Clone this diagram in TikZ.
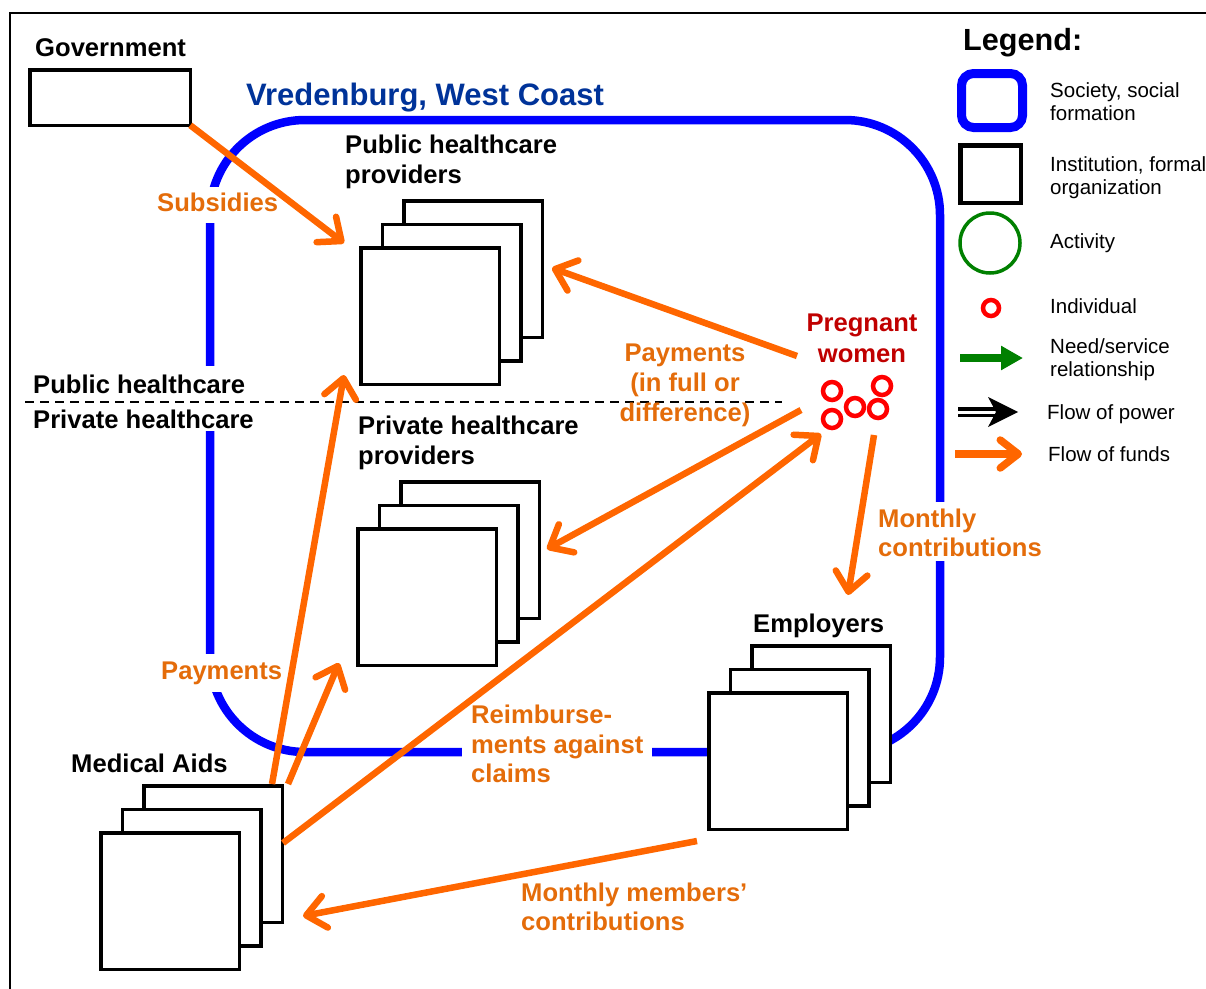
\documentclass[tikz,border=0pt]{standalone}
\usepackage{fontspec}
\setmainfont{Liberation Sans}
\usetikzlibrary{arrows.meta}
\definecolor{fundline}{RGB}{255,102,0}
\definecolor{fundtext}{RGB}{228,108,10}
\definecolor{socblue}{RGB}{0,0,255}
\definecolor{titleblue}{RGB}{0,51,153}
\definecolor{pwred}{RGB}{192,0,0}
\definecolor{indred}{RGB}{255,0,0}
\definecolor{actgreen}{RGB}{0,128,0}
\newcommand{\labfont}{\fontsize{25.6}{30}\selectfont\bfseries}
\newcommand{\legfont}{\fontsize{20.5}{23.5}\selectfont}
\newcommand{\instack}[3]{%
  \node[inst] (#1A) at ({#2+43},{#3-47}) {};
  \node[inst] (#1B) at ({#2+21.5},{#3-23.5}) {};
  \node[inst] (#1C) at (#2,#3) {};}
\begin{document}
\begin{tikzpicture}[x=1pt,y=-1pt,
  inst/.style={draw=black,line width=3.5pt,fill=white,minimum width=138.5pt,minimum height=136.5pt,inner sep=0pt,outer sep=0pt,anchor=north west},
  lab/.style={font=\labfont,inner sep=0pt,align=left,anchor=north west},
  funlab/.style={lab,text=fundtext},
  whitelab/.style={funlab,fill=white},
  leg/.style={font=\legfont,inner sep=0pt,align=left,anchor=north west},
  indiv/.style={circle,draw=indred,line width=4.5pt,minimum size=18pt,inner sep=0pt},
  funds/.style={draw=fundline,line width=6.5pt,-{Straight Barb[length=19pt,width=32pt,round]}},
  society/.style={draw=socblue,line width=8.5pt,rounded corners=95pt}]
\useasboundingbox (0,0) rectangle (1206,988);
% outer frame
\draw[line width=2pt] (10,990) -- (10,13) -- (1210,13);
% society: Vredenburg
\draw[society] (210,120) rectangle (940,752);
\node[font=\fontsize{31}{36}\selectfont\bfseries,text=titleblue,inner sep=0pt,anchor=base west] (vred) at (246,105) {Vredenburg, West Coast};
% labels with white background (interrupt the blue line)
\node[whitelab,inner sep=3pt] (subs) at (154,187) {\strut Subsidies};
\node[lab,fill=white,inner sep=3pt,font=\fontsize{25.6}{35}\selectfont\bfseries] (sector) at (30,365.5) {\strut Public healthcare\\Private healthcare};
\node[whitelab,inner sep=4pt] (paybl) at (157,654) {\strut Payments};
\node[whitelab,inner xsep=9pt,inner ysep=3pt,font=\fontsize{25.6}{29.5}\selectfont\bfseries] (reimb) at (462,700) {\strut Reimburse-\\ments against\\claims};
\node[whitelab,inner xsep=4pt,inner ysep=5pt,font=\fontsize{25.6}{29}\selectfont\bfseries] (monthly) at (874,501.7) {\strut Monthly\\contributions};
% divider
\draw[line width=2pt,dash pattern=on 9pt off 6pt] (25,402) -- (782,402);
% institutions
\node[draw=black,line width=3.5pt,fill=white,minimum width=160.5pt,minimum height=55.5pt,inner sep=0pt,outer sep=0pt,anchor=north west] (gov) at (29.75,69.75) {};
\node[font=\labfont,inner sep=0pt,anchor=base west] (govlab) at (35,56) {Government};
\instack{pub}{360.75}{247.75}
\node[lab] (publab) at (345,132) {\strut Public healthcare\\providers};
\instack{priv}{357.75}{528.75}
\node[lab] (privlab) at (358,413) {\strut Private healthcare\\providers};
\instack{emp}{708.75}{692.75}
\node[font=\labfont,inner sep=0pt,anchor=base west] (emplab) at (753,632) {Employers};
\instack{med}{100.75}{832.75}
\node[font=\labfont,inner sep=0pt,anchor=base west] (medlab) at (71,772) {Medical Aids};
% other flow labels
\node[funlab,align=center,anchor=north] (paypw) at (685,340) {\strut Payments\\(in full or\\difference)};
\node[funlab,font=\fontsize{25.6}{29}\selectfont\bfseries] (members) at (521,880.7) {\strut Monthly members’\\contributions};
% pregnant women
\node[lab,align=center,anchor=north,text=pwred,font=\fontsize{25.6}{31}\selectfont\bfseries] (pwlab) at (862,309.3) {\strut Pregnant\\women};
\node[indiv] (w1) at (832,391) {};
\node[indiv] (w2) at (882,386) {};
\node[indiv] (w3) at (855,407) {};
\node[indiv] (w4) at (878,409) {};
\node[indiv] (w5) at (832,419) {};
% connector end points
\coordinate (subsEnd) at (344,243);
\coordinate (pwOutPub) at (797,356);
\coordinate (pubIn) at (552,268);
\coordinate (pwOutPriv) at (801,410);
\coordinate (privIn) at (547,549);
\coordinate (medOutPw) at (283,843);
\coordinate (pwIn) at (821,434);
\coordinate (pwOutEmp) at (874,435);
\coordinate (empIn) at (848,595);
\coordinate (empOutMed) at (697,841);
\coordinate (medIn) at (303,916);
\coordinate (medOutPub) at (272,784);
\coordinate (pubInB) at (344,375);
\coordinate (medOutPriv) at (288,784);
\coordinate (privInB) at (339,663);
% flows of funds
\draw[funds] (gov.south east) -- (subsEnd);
\draw[funds] (pwOutPub) -- (pubIn);
\draw[funds] (pwOutPriv) -- (privIn);
\draw[funds] (medOutPw) -- (pwIn);
\draw[funds] (pwOutEmp) -- (empIn);
\draw[funds] (empOutMed) -- (medIn);
\draw[funds] (medOutPub) -- (pubInB);
\draw[funds] (medOutPriv) -- (privInB);
% legend
\node[font=\fontsize{30.6}{36}\selectfont\bfseries,inner sep=0pt,anchor=base west] (legtitle) at (963,50) {Legend:};
\draw[draw=socblue,line width=9pt,rounded corners=12pt] (961.5,73.5) rectangle (1022.5,127.5);
\node[leg] (lsoc) at (1050,80.5) {\strut Society, social\\formation};
\draw[line width=4.5pt] (960.25,145.25) rectangle (1020.75,202.75);
\node[leg] (linst) at (1050,154.5) {\strut Institution, formal\\organization};
\draw[draw=actgreen,line width=3.5pt] (990,243) circle[radius=30pt];
\node[font=\legfont,inner sep=0pt,anchor=base west] (lact) at (1050,248) {Activity};
\draw[draw=indred,line width=4.5pt] (991,308) circle[radius=8pt];
\node[font=\legfont,inner sep=0pt,anchor=base west] (lind) at (1050,313) {Individual};
\coordinate (ngA) at (960,358);
\coordinate (ngB) at (1023,358);
\draw[draw=actgreen,line width=8pt,-{Triangle[length=22pt,width=23pt]}] (ngA) -- (ngB);
\node[leg] (lneed) at (1050,336.5) {\strut Need/service\\relationship};
\coordinate (pwA) at (958,412);
\coordinate (pwB) at (997,412);
\draw[double=white,line width=3.5pt,double distance=3pt] (pwA) -- (pwB);
\fill (1018,412) -- (988,397) -- (996,412) -- (988,427) -- cycle;
\node[font=\legfont,inner sep=0pt,anchor=base west] (lpow) at (1047,419) {Flow of power};
\coordinate (ffA) at (955,454);
\coordinate (ffB) at (1022,454);
\draw[draw=fundline,line width=7.5pt,-{Straight Barb[length=18pt,width=28pt,round]}] (ffA) -- (ffB);
\node[font=\legfont,inner sep=0pt,anchor=base west] (lfun) at (1048,461) {Flow of funds};
\end{tikzpicture}
\end{document}
